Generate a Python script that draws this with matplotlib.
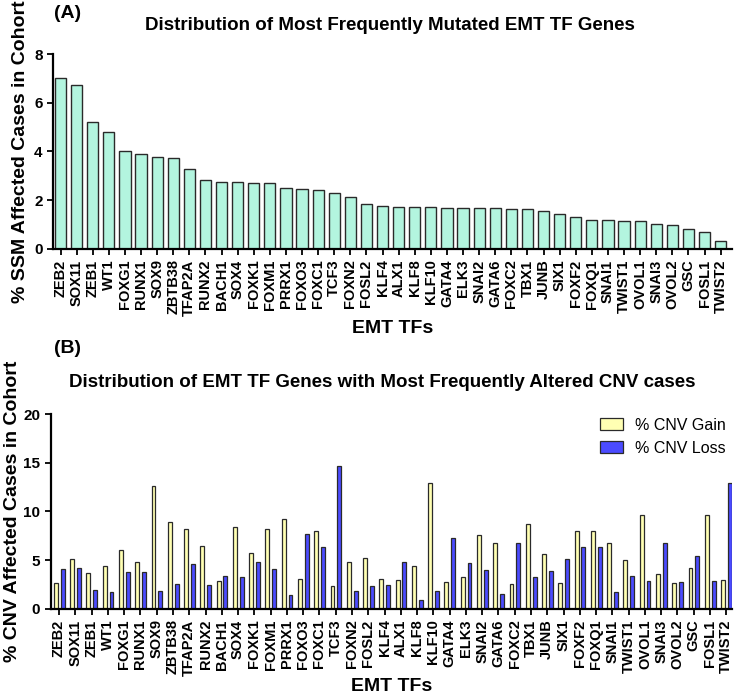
import matplotlib
matplotlib.use('Agg')
import matplotlib.pyplot as plt
import numpy as np

plt.rcParams['font.family'] = ['Liberation Sans', 'DejaVu Sans']

genes = ['ZEB2', 'SOX11', 'ZEB1', 'WT1', 'FOXG1', 'RUNX1', 'SOX9', 'ZBTB38', 'TFAP2A',
         'RUNX2', 'BACH1', 'SOX4', 'FOXK1', 'FOXM1', 'PRRX1', 'FOXO3', 'FOXC1', 'TCF3',
         'FOXN2', 'FOSL2', 'KLF4', 'ALX1', 'KLF8', 'KLF10', 'GATA4', 'ELK3', 'SNAI2',
         'GATA6', 'FOXC2', 'TBX1', 'JUNB', 'SIX1', 'FOXF2', 'FOXQ1', 'SNAI1', 'TWIST1',
         'OVOL1', 'SNAI3', 'OVOL2', 'GSC', 'FOSL1', 'TWIST2']

# % SSM affected cases (panel A)
ssm = [7.0, 6.73, 5.23, 4.78, 4.0, 3.89, 3.77, 3.73, 3.28, 2.84, 2.76, 2.76, 2.69, 2.69,
       2.52, 2.48, 2.44, 2.30, 2.13, 1.84, 1.76, 1.72, 1.72, 1.72, 1.68, 1.68, 1.68, 1.68,
       1.64, 1.64, 1.56, 1.43, 1.32, 1.20, 1.20, 1.16, 1.16, 1.04, 0.99, 0.80, 0.68, 0.33]

# % CNV gain / loss (panel B)
cnv_gain = [2.67, 5.16, 3.66, 4.38, 6.05, 4.85, 12.65, 8.92, 8.17, 6.46, 2.84, 8.38, 5.74,
            8.17, 9.2, 3.04, 7.97, 2.32, 4.85, 5.26, 3.04, 2.94, 4.44, 12.96, 2.74, 3.32,
            7.56, 6.74, 2.56, 8.75, 5.64, 2.67, 7.97, 7.97, 6.74, 5.06, 9.68, 3.59, 2.67,
            4.17, 9.68, 2.97]
cnv_loss = [4.10, 4.24, 1.95, 1.74, 3.76, 3.76, 1.85, 2.56, 4.65, 2.46, 3.35, 3.32, 4.85,
            4.07, 1.44, 7.66, 6.39, 14.67, 1.85, 2.32, 2.43, 4.85, 0.92, 1.85, 7.25, 4.75,
            4.03, 1.54, 6.74, 3.25, 3.93, 5.16, 6.39, 6.39, 1.74, 3.35, 2.87, 6.74, 2.77,
            5.47, 2.87, 12.96]

x = np.arange(len(genes))
edge = '#2a2a2a'

fig = plt.figure(figsize=(7.36, 6.97), dpi=100)

def style_axis(ax):
    for s in ['top', 'right']:
        ax.spines[s].set_visible(False)
    for s in ['left', 'bottom']:
        ax.spines[s].set_linewidth(1.6)
    ax.tick_params(axis='both', direction='out', width=1.3, length=4)
    ax.set_xticks(x)
    ax.set_xticklabels(genes, rotation=90, fontsize=10.5, fontweight='bold')
    for lab in ax.get_yticklabels():
        lab.set_fontweight('bold')
        lab.set_fontsize(11)

# Panel A
ax1 = fig.add_axes([0.072, 0.6428, 0.922, 0.2797])
ax1.bar(x, ssm, width=0.7, color='#b3f5df', edgecolor=edge, linewidth=1.0)
ax1.set_xlim(-0.47, 41.68)
ax1.set_ylim(0, 8)
ax1.set_yticks([0, 2, 4, 6, 8])
style_axis(ax1)
ax1.set_ylabel('% SSM Affected Cases in Cohort', fontsize=14, fontweight='bold', labelpad=4)
ax1.set_xlabel('EMT TFs', fontsize=14, fontweight='bold', labelpad=3)
fig.text(0.073, 0.993, '(A)', fontsize=14, fontweight='bold', va='top')
fig.text(0.53, 0.963, 'Distribution of Most Frequently Mutated EMT TF Genes',
         fontsize=13.5, fontweight='bold', ha='center', va='center')

# Panel B
ax2 = fig.add_axes([0.069, 0.1263, 0.926, 0.2797])
ax2.bar(x - 0.2, cnv_gain, width=0.24, color='#ffffb3', edgecolor=edge, linewidth=0.9,
        label='% CNV Gain')
ax2.bar(x + 0.22, cnv_loss, width=0.24, color='#4b4bff', edgecolor=edge, linewidth=0.9,
        label='% CNV Loss')
ax2.set_xlim(-0.51, 41.37)
ax2.set_ylim(0, 20)
ax2.set_yticks([0, 5, 10, 15, 20])
style_axis(ax2)
ax2.set_ylabel('% CNV Affected Cases in Cohort', fontsize=14, fontweight='bold', labelpad=2)
ax2.set_xlabel('EMT TFs', fontsize=14, fontweight='bold', labelpad=2)
ax2.legend(loc='upper right', bbox_to_anchor=(1.012, 1.055), frameon=False, fontsize=11.5,
           handlelength=1.45, handleheight=0.75, labelspacing=0.5, handletextpad=0.75)
fig.text(0.073, 0.512, '(B)', fontsize=14, fontweight='bold', va='top')
fig.text(0.52, 0.451, 'Distribution of EMT TF Genes with Most Frequently Altered CNV cases',
         fontsize=13.5, fontweight='bold', ha='center', va='center')

fig.savefig('out.png', dpi=100)
